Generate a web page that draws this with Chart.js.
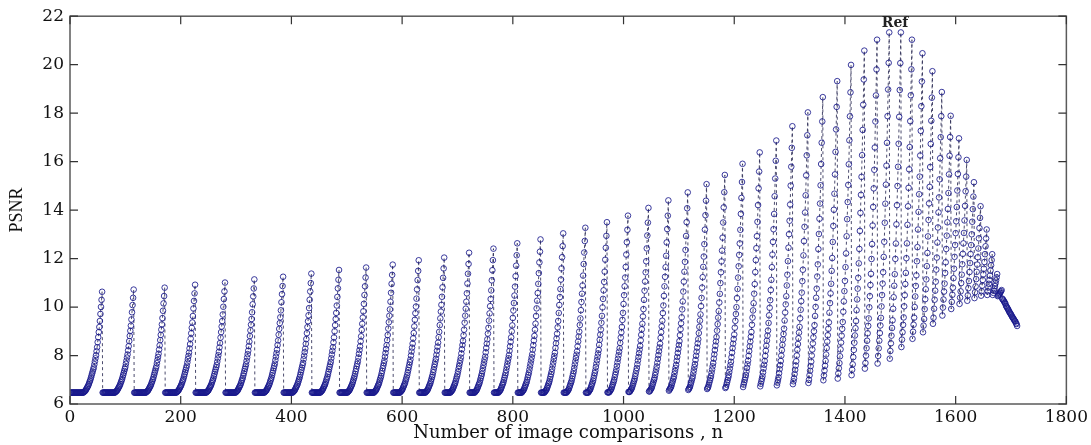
<!DOCTYPE html>
<html lang="en">
<head>
<meta charset="UTF-8">
<title>PSNR vs number of image comparisons</title>
<script src="https://cdn.jsdelivr.net/npm/chart.js"></script>
<style>
  html, body { margin: 0; padding: 0; background: #fff; }
  #wrap { width: 1091px; height: 445px; }
</style>
</head>
<body>
<div id="wrap"><canvas id="psnrChart"></canvas></div>
<script>
// one run per image: image k against images 59, 58 ... k+1, so runs get shorter
const cycleLength = [58, 57, 56, 55, 54, 53, 52, 51, 50, 49, 48, 47, 46, 45, 44, 43, 42, 41, 40, 39,
                     38, 37, 36, 35, 34, 33, 32, 31, 30, 29, 28, 27, 26, 25, 24, 23, 22, 21, 20, 19,
                     18, 17, 16, 15, 14, 13, 12, 11, 10, 9, 8, 7, 6, 5, 4, 3, 2, 1];

// PSNR at the first comparison of each run (read from the lower edge)
const cycleStart = [6.47, 6.47, 6.47, 6.47, 6.47, 6.47, 6.47, 6.47, 6.47, 6.47,
                    6.47, 6.47, 6.47, 6.47, 6.47, 6.47, 6.47, 6.47, 6.47, 6.47,
                    6.48, 6.50, 6.52, 6.55, 6.58, 6.62, 6.66, 6.70, 6.73, 6.77,
                    6.82, 6.87, 6.98, 7.05, 7.19, 7.46, 7.67, 7.87, 8.35, 8.69,
                    8.96, 9.31, 9.65, 9.92, 10.13, 10.26, 10.37, 10.47, 10.50, 10.50,
                    10.45, 10.35, 10.05, 9.80, 9.60, 9.45, 9.33, 9.22];

// PSNR at the last comparison of each run (the peaks)
const cyclePeak = [10.63, 10.72, 10.80, 10.92, 11.01, 11.14, 11.25, 11.38, 11.53, 11.63,
                   11.75, 11.93, 12.04, 12.24, 12.41, 12.63, 12.79, 13.04, 13.27, 13.50,
                   13.77, 14.09, 14.40, 14.73, 15.07, 15.45, 15.91, 16.38, 16.87, 17.46,
                   18.03, 18.66, 19.32, 19.99, 20.58, 21.03, 21.33, 21.33, 21.03, 20.47,
                   19.73, 18.87, 17.89, 16.96, 16.07, 15.15, 14.16, 13.20, 12.18, 11.36,
                   10.70, 10.13, 9.85, 9.65, 9.50, 9.40, 9.30, 9.22];

const riseProfile = [1.00, 0.92, 0.85, 0.78, 0.71, 0.65, 0.60, 0.55, 0.50, 0.45,
                     0.41, 0.37, 0.34, 0.31, 0.28, 0.25, 0.23, 0.21, 0.19, 0.17,
                     0.15, 0.13, 0.115, 0.10, 0.085, 0.07, 0.06, 0.05, 0.04, 0.03,
                     0.02, 0.015, 0.01, 0.005, 0, 0, 0, 0, 0, 0,
                     0, 0, 0, 0, 0, 0, 0, 0, 0, 0,
                     0, 0, 0, 0, 0, 0, 0, 0];

const xTicks = [0, 200, 400, 600, 800, 1000, 1200, 1400, 1600, 1800];
const yTicks = [6, 8, 10, 12, 14, 16, 18, 20, 22];
const refRuns = [37, 38]; // the two highest runs, "Ref" sits between them

// build the points
const points = [];
const runEnds = [];
let n = 0;
cycleLength.forEach((len, k) => {
    const fMax = riseProfile[len - 1];
    for (let d = len; d >= 1; d--) {
        n++;
        const g = len === 1 ? 1 : (riseProfile[d - 1] - fMax) / (1 - fMax);
        points.push({ x: n, y: cycleStart[k] + (cyclePeak[k] - cycleStart[k]) * g });
    }
    runEnds.push(n);
});

const serif = "'DejaVu Serif', serif";

const framePlugin = {
    id: 'frame',
    afterDatasetsDraw(chart) {
        const { ctx, chartArea: a, scales: { x, y } } = chart;
        ctx.save();
        ctx.strokeStyle = '#5a5a5a';
        ctx.lineWidth = 1.5;
        ctx.strokeRect(a.left, a.top, a.right - a.left, a.bottom - a.top);
        ctx.lineWidth = 1.2;
        ctx.strokeStyle = '#333';
        ctx.beginPath();
        xTicks.forEach(v => {
            const px = x.getPixelForValue(v);
            ctx.moveTo(px, a.bottom); ctx.lineTo(px, a.bottom - 8);
            ctx.moveTo(px, a.top); ctx.lineTo(px, a.top + 8);
        });
        yTicks.forEach(v => {
            const py = y.getPixelForValue(v);
            ctx.moveTo(a.left, py); ctx.lineTo(a.left + 8, py);
            ctx.moveTo(a.right, py); ctx.lineTo(a.right - 8, py);
        });
        ctx.stroke();

        // Ref label above the top peaks
        const i1 = runEnds[refRuns[0] - 1], i2 = runEnds[refRuns[1] - 1];
        const rx = (x.getPixelForValue(i1) + x.getPixelForValue(i2)) / 2;
        const ry = y.getPixelForValue(Math.max(cyclePeak[refRuns[0] - 1], cyclePeak[refRuns[1] - 1]));
        ctx.fillStyle = '#222';
        ctx.font = "bold 14px 'DejaVu Serif', serif";
        ctx.textAlign = 'center';
        ctx.textBaseline = 'bottom';
        ctx.fillText('Ref', rx, ry - 2);
        ctx.restore();
    }
};

const ctx = document.getElementById('psnrChart').getContext('2d');
const psnrChart = new Chart(ctx, {
    type: 'line',
    data: {
        datasets: [{
            label: 'PSNR',
            data: points,
            borderColor: 'rgba(45, 45, 85, 0.85)',
            borderWidth: 1,
            borderDash: [3, 3],
            tension: 0,
            pointRadius: 2.8,
            pointBorderWidth: 1,
            pointBorderColor: 'rgba(25, 25, 140, 0.85)',
            pointBackgroundColor: 'rgba(255, 255, 255, 0)',
            fill: false
        }]
    },
    options: {
        responsive: true,
        maintainAspectRatio: false,
        animation: false,
        parsing: false,
        layout: { padding: { top: 14, right: 22, left: 0, bottom: 0 } },
        plugins: {
            legend: { display: false },
            tooltip: { enabled: false }
        },
        scales: {
            x: {
                type: 'linear',
                min: 0,
                max: 1800,
                grid: { display: false, drawTicks: false },
                border: { display: false },
                afterBuildTicks: s => { s.ticks = xTicks.map(v => ({ value: v })); },
                afterFit: s => { s.height = 41; },
                ticks: {
                    padding: 3,
                    color: '#111',
                    font: { family: serif, size: 17 },
                    maxRotation: 0,
                    callback: v => String(v)
                },
                title: {
                    display: true,
                    text: 'Number of image comparisons , n',
                    color: '#111',
                    font: { family: serif, size: 18 },
                    padding: { top: 0, bottom: 1 }
                }
            },
            y: {
                min: 6,
                max: 22,
                grid: { display: false, drawTicks: false },
                border: { display: false },
                afterBuildTicks: s => { s.ticks = yTicks.map(v => ({ value: v })); },
                afterFit: s => { s.width = 70; },
                ticks: {
                    padding: 6,
                    color: '#111',
                    font: { family: serif, size: 17 },
                    callback: v => String(v)
                },
                title: {
                    display: true,
                    text: 'PSNR',
                    color: '#111',
                    font: { family: "'Liberation Serif', serif", size: 18 },
                    padding: { top: 6, bottom: 0 }
                }
            }
        }
    },
    plugins: [framePlugin]
});
</script>
</body>
</html>
